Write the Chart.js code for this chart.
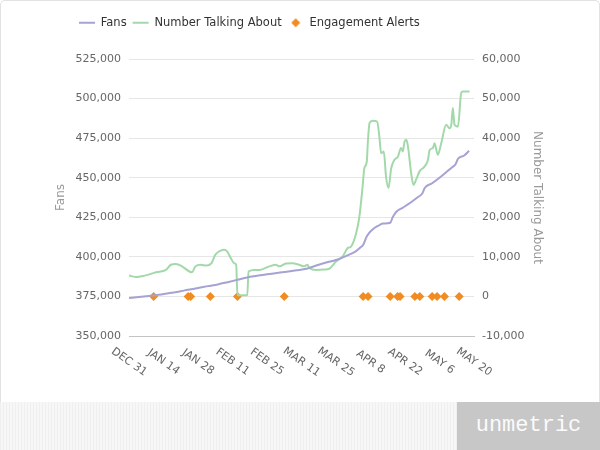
<!DOCTYPE html>
<html lang="en">
<head>
<meta charset="UTF-8">
<title>Fans vs Number Talking About</title>
<script src="https://cdn.jsdelivr.net/npm/chart.js@4.4.0/dist/chart.umd.min.js"></script>
<style>
  html, body { margin: 0; padding: 0; background: #fff; }
  .card { position: absolute; left: 0; top: 0; width: 598px; height: 402px;
          border: 1px solid #e2e2e2; border-bottom: none; border-radius: 5px 5px 0 0; }
  #chartBox { position: absolute; left: 0; top: 0; width: 600px; height: 402px; }
  .footer { position: absolute; left: 0; top: 402px; width: 600px; height: 48px;
            background: repeating-linear-gradient(90deg, #efefef 0 1px, #f7f7f7 1px 3px); }
  .brand { position: absolute; right: 0; top: 0; width: 143px; height: 48px; background: #c7c7c7;
           color: #fbfbfb; font: 22px "Liberation Mono", monospace; line-height: 48px; text-align: center; }
</style>
</head>
<body>
<div class="card"></div>
<div id="chartBox"><canvas id="fansChart" width="600" height="402"></canvas></div>
<div class="footer"><div class="brand">unmetric</div></div>
<script>
// day 0 = Dec 31
const tickDays = [0, 14, 28, 42, 56, 70, 84, 98, 112, 126, 140];
const tickLabels = ["DEC 31", "JAN 14", "JAN 28", "FEB 11", "FEB 25", "MAR 11", "MAR 25", "APR 8", "APR 22", "MAY 6", "MAY 20"];

// Fans (left axis)
const fanDays = [0, 4, 8, 12, 16, 20, 24, 28, 32, 36, 40, 44, 48, 52, 56, 60, 64, 68, 72, 76, 80, 84, 88, 92, 94, 95, 96.5, 99, 101, 103, 106, 107, 108.5, 111, 114, 117, 119, 120, 123, 126, 128, 131, 132.5, 133.5, 136, 138];
const fanValues = [374000, 374700, 375300, 376000, 377000, 378000, 379200, 380300, 381500, 382600, 384000, 385500, 387000, 388000, 389000, 389800, 390600, 391500, 392500, 394500, 396400, 398000, 400500, 403500, 406000, 407500, 413000, 417500, 419500, 421000, 421500, 425000, 428500, 431000, 434000, 437500, 440000, 443500, 446500, 450000, 452500, 456500, 458500, 462000, 464000, 467000];

// Number Talking About (right axis)
const talkDays = [0, 3, 6, 11, 15, 17, 19, 21.5, 24.5, 25.5, 27, 29, 31.5, 33.5, 35, 37.3, 38.6, 39.8, 41.3, 42.7, 43.5, 44, 48, 48.5, 51, 53, 57, 59.6, 61, 63.7, 66.3, 69, 71, 72.4, 73.2, 76, 79.3, 81.3, 84, 86.7, 88.7, 90.1, 92.2, 93.5, 94.8, 95.5, 96.5, 96.9, 97.6, 98.9, 100.7, 101.6, 102.3, 103.4, 104.3, 105.3, 106.4, 107.7, 109.1, 110.4, 111.1, 111.8, 112.5, 113.1, 114.5, 115.4, 116.5, 117.9, 119.9, 121.3, 122, 123.3, 124, 125.3, 126.7, 128.7, 130.1, 130.8, 131.4, 132.1, 133.5, 134.8, 135.5, 138.2];
const talkValues = [5300, 4900, 5200, 6100, 6700, 8000, 8200, 7600, 6300, 6100, 7600, 8000, 7800, 8400, 10500, 11600, 11800, 11400, 9700, 8400, 8000, 300, 300, 6300, 6700, 6700, 7600, 8000, 7600, 8300, 8400, 8000, 7600, 8000, 7200, 6700, 6800, 7000, 8800, 10100, 12200, 12600, 16000, 20200, 27800, 32400, 34100, 38700, 43800, 44400, 44200, 40400, 36200, 36600, 30300, 27400, 32400, 34500, 35300, 37500, 36600, 39100, 39600, 38300, 31200, 28200, 29500, 31600, 32800, 34500, 37000, 37500, 38700, 35800, 38700, 43400, 42500, 43400, 47600, 43400, 42900, 51400, 51800, 51800];

// Engagement alerts (plotted at 0 on right axis)
const alertDays = [10, 24, 25, 33, 44, 63, 95, 97, 106, 109, 110, 116, 118, 123, 125, 128, 134];

const fontFam = "'DejaVu Sans', 'Lucida Grande', sans-serif";
const alertColor = "#f08c22";
const fmt = v => v.toLocaleString("en-US");

// small diamond used as the legend symbol for alerts
const diamondIcon = document.createElement("canvas");
diamondIcon.width = 10;
diamondIcon.height = 10;
(function () {
  const c = diamondIcon.getContext("2d");
  c.fillStyle = alertColor;
  c.beginPath();
  c.moveTo(5, 0.5); c.lineTo(9.5, 5); c.lineTo(5, 9.5); c.lineTo(0.5, 5);
  c.closePath();
  c.fill();
})();

// legend block height / offset to match the reference layout
const legendShift = {
  id: "legendShift",
  beforeInit(chart) {
    const fit = chart.legend.fit;
    chart.legend.fit = function () {
      fit.call(this);
      this.height = 59;
    };
  },
  afterLayout(chart) {
    chart.legend.left = 79 - chart.legend.options.labels.padding;
    chart.legend.top = 11;
  }
};

// slanted date labels under the x axis
const xLabels = {
  id: "xLabels",
  afterDraw(chart) {
    const xs = chart.scales.x;
    const ctx = chart.ctx;
    ctx.save();
    ctx.font = "11px " + fontFam;
    ctx.fillStyle = "#666";
    ctx.textAlign = "center";
    ctx.textBaseline = "middle";
    tickDays.forEach((d, i) => {
      ctx.save();
      ctx.translate(xs.getPixelForValue(d), xs.top + 26);
      ctx.rotate(35 * Math.PI / 180);
      ctx.fillText(tickLabels[i], 0, 0);
      ctx.restore();
    });
    ctx.restore();
  }
};

new Chart(document.getElementById("fansChart"), {
  type: "line",
  data: {
    datasets: [{
      label: "Fans",
      data: fanDays.map((d, i) => ({ x: d, y: fanValues[i] })),
      yAxisID: "y",
      borderColor: "#a5a2d4",
      borderWidth: 2,
      pointRadius: 0,
      pointStyle: "line",
      cubicInterpolationMode: "monotone"
    }, {
      label: "Number Talking About",
      data: talkDays.map((d, i) => ({ x: d, y: talkValues[i] })),
      yAxisID: "y1",
      borderColor: "#a3d9aa",
      borderWidth: 2,
      pointRadius: 0,
      pointStyle: "line",
      cubicInterpolationMode: "monotone"
    }, {
      label: "Engagement Alerts",
      data: alertDays.map(d => ({ x: d, y: 0 })),
      yAxisID: "y1",
      showLine: false,
      pointStyle: "rectRot",
      pointRadius: 4.5,
      backgroundColor: alertColor,
      borderColor: alertColor,
      borderWidth: 0
    }]
  },
  plugins: [legendShift, xLabels],
  options: {
    responsive: false,
    animation: false,
    layout: { padding: { left: 50, right: 52, top: 0, bottom: 0 } },
    plugins: {
      legend: {
        position: "top",
        align: "start",
        labels: {
          usePointStyle: true,
          pointStyleWidth: 16,
          boxHeight: 6,
          padding: 6,
          color: "#333",
          font: { family: fontFam, size: 11.5 },
          generateLabels(chart) {
            const items = Chart.defaults.plugins.legend.labels.generateLabels(chart);
            items[2].pointStyle = diamondIcon;
            return items;
          }
        }
      },
      tooltip: { enabled: false }
    },
    scales: {
      x: {
        type: "linear",
        min: 0,
        max: 140,
        ticks: { display: false, stepSize: 14 },
        grid: { display: false },
        border: { display: true, color: "#c4c4c4" },
        afterFit(scale) { scale.height = 402 - 336; }
      },
      y: {
        position: "left",
        min: 350000,
        max: 525000,
        ticks: { stepSize: 25000, padding: 8, color: "#666", font: { family: fontFam, size: 11 }, callback: fmt },
        grid: { color: "#e6e6e6", drawTicks: false },
        border: { display: false },
        title: { display: true, text: "Fans", color: "#999", padding: { top: 4, bottom: 0 }, font: { family: fontFam, size: 12 } },
        afterFit(scale) { scale.width = 79; }
      },
      y1: {
        position: "right",
        min: -10000,
        max: 60000,
        ticks: { stepSize: 10000, padding: 8, color: "#666", font: { family: fontFam, size: 11 }, callback: fmt },
        grid: { display: false, drawTicks: false },
        border: { display: false },
        title: { display: true, text: "Number Talking About", color: "#999", padding: { top: 4, bottom: 0 }, font: { family: fontFam, size: 12 } },
        afterFit(scale) { scale.width = 74; }
      }
    }
  }
});
</script>
</body>
</html>
